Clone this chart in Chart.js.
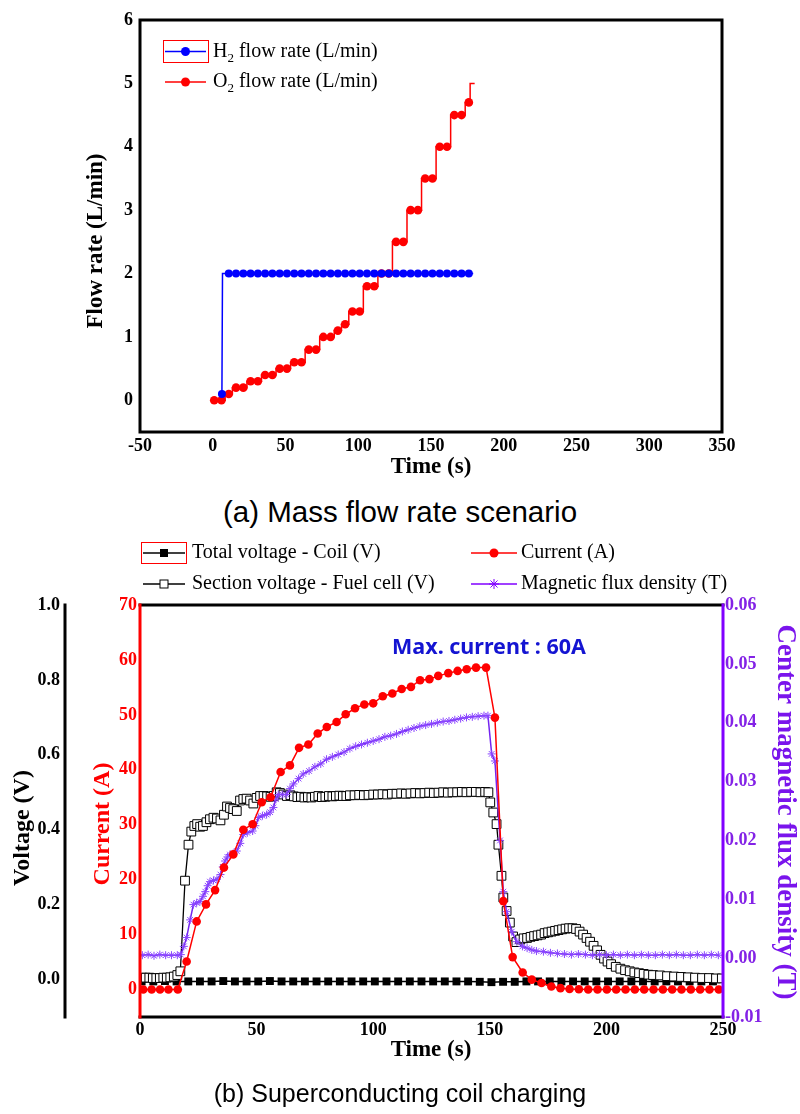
<!DOCTYPE html>
<html><head><meta charset="utf-8">
<script src="https://cdn.jsdelivr.net/npm/chart.js@4.4.1/dist/chart.umd.min.js"></script>
<style>
html,body{margin:0;padding:0;background:#fff;width:800px;height:1114px;overflow:hidden;position:relative}
#c1{position:absolute;left:0;top:0}
#c2{position:absolute;left:0;top:530px}
.cap{position:absolute;left:0;width:800px;text-align:center;font-family:"Liberation Sans",Arial,sans-serif;color:#000;line-height:1;white-space:nowrap}
</style></head><body>
<canvas id="c1" width="800" height="490"></canvas>
<canvas id="c2" width="800" height="560"></canvas>
<div class="cap" style="top:497px;font-size:29.5px">(a) Mass flow rate scenario</div>
<div class="cap" style="top:1081px;font-size:25px">(b) Superconducting coil charging</div>
<script>
// ---------- (a) data ----------
const flowXTicks = [-50, 0, 50, 100, 150, 200, 250, 300, 350];
const flowYTicks = [0, 1, 2, 3, 4, 5, 6];
const h2Time = [6.3, 6.7, 11, 16, 21, 26, 31, 36, 41, 46, 51, 56, 61, 66, 71, 76, 81, 86, 91, 96, 101, 106, 111, 116, 121, 126, 131, 136, 141, 146, 151, 156, 161, 166, 171, 176, 179];
const h2Flow = [0.1, 2, 2, 2, 2, 2, 2, 2, 2, 2, 2, 2, 2, 2, 2, 2, 2, 2, 2, 2, 2, 2, 2, 2, 2, 2, 2, 2, 2, 2, 2, 2, 2, 2, 2, 2, 2];
const o2Time = [1, 6, 11, 16, 21, 26, 31, 36, 41, 46, 51, 56, 61, 66, 71, 76, 81, 86, 91, 96, 101, 106, 111, 116, 121, 126, 131, 136, 141, 146, 151, 156, 161, 166, 171, 176, 177.8, 180];
const o2Flow = [0, 0, 0.1, 0.2, 0.2, 0.3, 0.3, 0.4, 0.4, 0.5, 0.5, 0.6, 0.6, 0.8, 0.8, 1.0, 1.0, 1.1, 1.2, 1.4, 1.4, 1.8, 1.8, 2.0, 2.0, 2.5, 2.5, 3.0, 3.0, 3.5, 3.5, 4.0, 4.0, 4.5, 4.5, 4.7, 5.0, 5.0];

// ---------- (b) data ----------
const timeTicks = [0, 50, 100, 150, 200, 250];
const voltTicks = [0, 0.2, 0.4, 0.6, 0.8, 1.0];
const currTicks = [0, 10, 20, 30, 40, 50, 60, 70];
const fluxTicks = [-0.01, 0, 0.01, 0.02, 0.03, 0.04, 0.05, 0.06];

const totalT = [0.7, 5.7, 10.7, 15.7, 20.7, 25.7, 30.7, 35.7, 40.7, 45.7,
  50.7, 55.7, 60.7, 65.7, 70.7, 75.7, 80.7, 85.7, 90.7, 95.7,
  100.7, 105.7, 110.7, 115.7, 120.7, 125.7, 130.7, 135.7, 140.7, 145.7,
  150.7, 155.7, 160.7, 165.7, 170.7, 175.7, 180.7, 185.7, 190.7, 195.7,
  200.7, 205.7, 210.7, 215.7, 220.7, 225.7, 230.7, 235.7, 240.7, 245.7];
const totalV = [-0.005, -0.005, -0.004, -0.005, -0.005, -0.005, -0.005, -0.004, -0.005, -0.005,
  -0.005, -0.004, -0.005, -0.005, -0.005, -0.005, -0.005, -0.005, -0.005, -0.005,
  -0.005, -0.005, -0.005, -0.005, -0.005, -0.005, -0.005, -0.005, -0.005, -0.006,
  -0.007, -0.006, -0.006, -0.005, -0.005, -0.005, -0.005, -0.005, -0.005, -0.005,
  -0.005, -0.005, -0.005, -0.005, -0.005, -0.005, -0.005, -0.005, -0.005, -0.005];

const sectionT = [1, 2.5, 4, 5.5, 7, 8.5, 10, 11.5, 13, 14.5,
  16, 17.3, 19.3, 20.8, 22, 23.3, 24.5, 25.8, 27, 28.5,
  30, 31.5, 33, 34.5, 36, 37.3, 38.6, 40, 41.5, 42.9,
  44.3, 45.7, 47.2, 48.6, 50, 51.5, 53, 54.5, 56, 57.4,
  58.6, 60, 61.5, 63, 64.5, 66, 67.5, 69, 70.5, 72,
  73.5, 75, 76.5, 78, 79.5, 81, 82.5, 84, 85.5, 87,
  88.5, 90, 92, 94, 96, 98, 100, 102, 104, 106,
  108, 110, 112, 114, 116, 118, 120, 122, 124, 126,
  128, 130, 132, 134, 136, 138, 140, 142, 144, 146,
  148, 149.4, 150.2, 151.5, 152.9, 153.7, 155, 155.8, 157.2, 158.6,
  160, 161.4, 163, 164.5, 166, 167.5, 169, 170.5, 172, 173.5,
  175, 176.5, 178, 179.5, 181, 182.5, 184, 185.5, 187, 188.5,
  190, 191.5, 193, 194.5, 196, 197.5, 199, 200.5, 202, 204,
  206, 208, 210, 212, 214, 216, 218, 220, 223, 226,
  229, 232, 235, 238, 241, 244, 247, 249.5];
const sectionV = [0.005, 0.005, 0.005, 0.004, 0.004, 0.004, 0.005, 0.005, 0.006, 0.008,
  0.012, 0.022, 0.264, 0.36, 0.395, 0.41, 0.415, 0.408, 0.41, 0.42,
  0.428, 0.432, 0.43, 0.425, 0.44, 0.462, 0.458, 0.455, 0.45, 0.478,
  0.482, 0.483, 0.478, 0.47, 0.485, 0.49, 0.49, 0.489, 0.488, 0.49,
  0.5, 0.498, 0.494, 0.49, 0.492, 0.489, 0.487, 0.488, 0.486, 0.487,
  0.486, 0.488, 0.49, 0.487, 0.488, 0.49, 0.489, 0.49, 0.491, 0.49,
  0.49, 0.492, 0.492, 0.493, 0.492, 0.493, 0.494, 0.494, 0.495, 0.494,
  0.496, 0.496, 0.497, 0.496, 0.497, 0.498, 0.497, 0.498, 0.499, 0.498,
  0.499, 0.5, 0.499, 0.5, 0.5, 0.501, 0.5, 0.501, 0.501, 0.5,
  0.501, 0.5, 0.473, 0.446, 0.415, 0.36, 0.277, 0.219, 0.183, 0.152,
  0.115, 0.1, 0.107, 0.11, 0.111, 0.114, 0.116, 0.118, 0.12, 0.124,
  0.126, 0.128, 0.13, 0.132, 0.134, 0.136, 0.137, 0.137, 0.135, 0.128,
  0.12, 0.111, 0.101, 0.09, 0.078, 0.066, 0.056, 0.048, 0.041, 0.034,
  0.029, 0.025, 0.022, 0.019, 0.017, 0.015, 0.013, 0.012, 0.011, 0.009,
  0.008, 0.007, 0.006, 0.005, 0.004, 0.004, 0.003, 0.003];

const currentT = [1.4, 5, 8.6, 12.2, 16.2, 20, 24.3, 28.3, 32.2, 36,
  40, 44.3, 48.3, 52.2, 56, 60.3, 64.3, 68.2, 72.2, 76.2,
  80.1, 84.3, 88.2, 92.2, 96.2, 100, 104.1, 108.2, 112.2, 116.2,
  120.1, 124.1, 127.9, 132.2, 136.2, 140.1, 144.1, 148.4, 152.2, 155.8,
  159.8, 164.1, 168, 172.2, 176.4, 180.3, 184.2, 188.2, 192.2, 196.2,
  200.2, 204.2, 208.2, 212.2, 216.2, 220.2, 224.2, 228.2, 232.2, 236.2,
  240.2, 244.2, 248.2];
const currentA = [0, 0, 0, 0, 0, 5.1, 12.4, 15.5, 18.1, 22.2,
  24.6, 29.1, 30.1, 34.1, 35, 39.6, 40.8, 44, 44.6, 46.6,
  47.8, 48.7, 50.1, 51.2, 51.9, 52.1, 53.4, 53.9, 54.7, 55.1,
  56.3, 56.5, 57.1, 57.6, 58, 58.3, 58.6, 58.6, 49.5, 16.1,
  5.9, 3.1, 1.8, 1.2, 0.55, 0.25, 0.1, 0.05, 0, 0,
  0, 0, 0, 0, 0, 0, 0, 0, 0, 0,
  0, 0, 0];

const fluxT = [1, 3.5, 6, 8.5, 11, 13.5, 16, 17.5, 18.8, 20,
  21.5, 22.9, 24.3, 25.7, 27, 28, 29, 30, 31.5, 33,
  34.5, 35.5, 36.5, 37.5, 38.6, 40, 41.5, 43, 44.3, 46,
  48.3, 49.5, 50.9, 52.5, 54.3, 55.8, 57.2, 58.3, 59.3, 61,
  62.9, 64.3, 65.8, 68, 70, 72.5, 75, 77.5, 80, 82.5,
  85, 87.5, 90, 92.5, 95, 97.5, 100, 102.5, 105, 107.5,
  110, 112.5, 115, 117.5, 120, 122.5, 125, 127.5, 130, 132.5,
  135, 137.5, 140, 142.5, 145, 147.5, 149.2, 150.8, 152.2, 154.4,
  155.8, 157.2, 159.4, 161.6, 164, 166, 168, 170, 173, 176,
  179, 182, 185, 188, 191, 194, 197, 200, 203, 206,
  209, 212, 215, 218, 221, 224, 227, 230, 233, 236,
  239, 242, 245, 248];
const fluxB = [0.0005, 0.0006, 0.0004, 0.0006, 0.0005, 0.0005, 0.0005, 0.0006, 0.002, 0.0035,
  0.0065, 0.0091, 0.0094, 0.0096, 0.0105, 0.0113, 0.0123, 0.013, 0.0132, 0.0134,
  0.0142, 0.0155, 0.0165, 0.0172, 0.0176, 0.0178, 0.0182, 0.0195, 0.021, 0.0213,
  0.0216, 0.0225, 0.0239, 0.0242, 0.0244, 0.0248, 0.0256, 0.027, 0.0278, 0.0278,
  0.0278, 0.0288, 0.0296, 0.0305, 0.0313, 0.0318, 0.0325, 0.033, 0.0338, 0.0342,
  0.0346, 0.035, 0.0356, 0.036, 0.0363, 0.0366, 0.0369, 0.0372, 0.0376, 0.0378,
  0.0381, 0.0385, 0.0388, 0.0391, 0.0394, 0.0396, 0.0398, 0.04, 0.0402, 0.0403,
  0.0405, 0.0407, 0.0409, 0.041, 0.0411, 0.0412, 0.0412, 0.0347, 0.0335, 0.02,
  0.0113, 0.0079, 0.0045, 0.0028, 0.002, 0.0017, 0.0014, 0.0012, 0.0011, 0.0009,
  0.0008, 0.0007, 0.0006, 0.0007, 0.0006, 0.0005, 0.0006, 0.0005, 0.0006, 0.0005,
  0.0006, 0.0005, 0.0006, 0.0005, 0.0005, 0.0006, 0.0005, 0.0006, 0.0005, 0.0005,
  0.0006, 0.0005, 0.0006, 0.0005];

// ---------- helpers ----------
const SERIF = '"Liberation Serif","Times New Roman",serif';
const RED = '#ff0000', BLUE = '#0000ff', PURPLE = '#8000ff', PURPLE_TXT = '#8322e6';
Chart.defaults.font.family = SERIF;
const pts = (xs, ys) => xs.map((x, i) => ({x: x, y: ys[i]}));
const setTicks = arr => scale => { scale.ticks = arr.map(v => ({value: v})); };

function text(ctx, s, x, y, font, color, align, rot) {
  ctx.save();
  ctx.font = font; ctx.fillStyle = color; ctx.textAlign = align || 'left'; ctx.textBaseline = 'middle';
  ctx.translate(x, y); if (rot) ctx.rotate(rot);
  ctx.fillText(s, 0, 0);
  ctx.restore();
}
function subLabel(ctx, x, y, main, sub, rest) {
  ctx.save();
  ctx.textBaseline = 'middle'; ctx.textAlign = 'left'; ctx.fillStyle = '#000';
  ctx.font = '20px ' + SERIF; ctx.fillText(main, x, y);
  let w = ctx.measureText(main).width;
  ctx.font = '13px ' + SERIF; ctx.fillText(sub, x + w, y + 7);
  w += ctx.measureText(sub).width;
  ctx.font = '20px ' + SERIF; ctx.fillText(rest, x + w, y);
  ctx.restore();
}
function sample(ctx, x1, x2, y, color, kind) {
  ctx.save();
  ctx.strokeStyle = color; ctx.lineWidth = 1.5;
  ctx.beginPath(); ctx.moveTo(x1, y); ctx.lineTo(x2, y); ctx.stroke();
  const cx = (x1 + x2) / 2;
  if (kind === 'circle') { ctx.fillStyle = color; ctx.beginPath(); ctx.arc(cx, y, 4.5, 0, Math.PI * 2); ctx.fill(); }
  else if (kind === 'fsq') { ctx.fillStyle = color; ctx.fillRect(cx - 4, y - 4, 8, 8); }
  else if (kind === 'osq') { ctx.fillStyle = '#fff'; ctx.fillRect(cx - 4, y - 4, 8, 8); ctx.lineWidth = 1; ctx.strokeRect(cx - 4, y - 4, 8, 8); }
  else if (kind === 'star') {
    ctx.lineWidth = 1; const r = 5;
    for (let k = 0; k < 4; k++) { const a = k * Math.PI / 4; ctx.beginPath(); ctx.moveTo(cx - r * Math.cos(a), y - r * Math.sin(a)); ctx.lineTo(cx + r * Math.cos(a), y + r * Math.sin(a)); ctx.stroke(); }
  }
  ctx.restore();
}
function seg(ctx, x1, y1, x2, y2, color, w) {
  ctx.save(); ctx.strokeStyle = color; ctx.lineWidth = w; ctx.beginPath(); ctx.moveTo(x1, y1); ctx.lineTo(x2, y2); ctx.stroke(); ctx.restore();
}
const tickFont = {family: SERIF, size: 18, weight: 'bold'};
const noGrid = {display: false, drawTicks: false};
const noBorder = {display: false};

// ---------- chart (a) ----------
const deco1 = {
  id: 'deco1',
  afterDatasetsDraw(chart) {
    const ctx = chart.ctx, a = chart.chartArea;
    ctx.save(); ctx.strokeStyle = '#000'; ctx.lineWidth = 3;
    ctx.strokeRect(a.left, a.top, a.right - a.left, a.bottom - a.top);
    ctx.restore();
  },
  afterDraw(chart) {
    const ctx = chart.ctx;
    text(ctx, 'Flow rate (L/min)', 96, 241, 'bold 23px ' + SERIF, '#000', 'center', -Math.PI / 2);
    text(ctx, 'Time (s)', 431, 467, 'bold 23px ' + SERIF, '#000', 'center');
    ctx.save(); ctx.strokeStyle = RED; ctx.lineWidth = 1; ctx.strokeRect(163.5, 40.5, 45, 22); ctx.restore();
    sample(ctx, 165, 206, 51.5, BLUE, 'circle');
    subLabel(ctx, 213, 52, 'H', '2', ' flow rate (L/min)');
    sample(ctx, 165, 206, 82, RED, 'circle');
    subLabel(ctx, 213, 82, 'O', '2', ' flow rate (L/min)');
  }
};
new Chart(document.getElementById('c1'), {
  type: 'line',
  data: {
    datasets: [
      {label: 'H2 flow rate (L/min)', data: pts(h2Time, h2Flow), borderColor: BLUE, backgroundColor: BLUE,
        borderWidth: 1.5, pointRadius: c => (c.dataIndex === 1 || c.dataIndex === h2Time.length - 1) ? 0 : 4,
        pointBorderWidth: 0, tension: 0},
      {label: 'O2 flow rate (L/min)', data: pts(o2Time, o2Flow), borderColor: RED, backgroundColor: RED,
        borderWidth: 1.5, stepped: 'middle', pointRadius: c => (c.dataIndex >= o2Time.length - 2) ? 0 : 4.3,
        pointBorderWidth: 0, tension: 0}
    ]
  },
  options: {
    responsive: false, animation: false, devicePixelRatio: 1,
    layout: {padding: {top: 20, right: 78, left: 0, bottom: 0}},
    plugins: {legend: {display: false}, tooltip: {enabled: false}},
    scales: {
      x: {type: 'linear', min: -50, max: 350, grid: noGrid, border: noBorder,
        afterBuildTicks: setTicks(flowXTicks), afterFit: s => { s.height = 58; },
        ticks: {font: tickFont, color: '#000', padding: 4, maxRotation: 0, autoSkip: false}},
      y: {type: 'linear', min: -0.5, max: 6, grid: noGrid, border: noBorder,
        afterBuildTicks: setTicks(flowYTicks), afterFit: s => { s.width = 140; },
        ticks: {font: tickFont, color: '#000', padding: 7, autoSkip: false}}
    }
  },
  plugins: [deco1]
});

// ---------- chart (b) ----------
const deco2 = {
  id: 'deco2',
  afterDatasetsDraw(chart) {
    const ctx = chart.ctx, a = chart.chartArea, v = chart.scales.yV;
    seg(ctx, a.left - 1.5, a.top, a.right + 1.5, a.top, '#000', 3);
    seg(ctx, a.left - 1.5, a.bottom, a.right + 1.5, a.bottom, '#000', 3);
    seg(ctx, a.left, a.top - 1.5, a.left, a.bottom + 1.5, RED, 3);
    seg(ctx, a.right, a.top - 1.5, a.right, a.bottom + 1.5, PURPLE, 3);
    seg(ctx, v.right, a.top - 1.5, v.right, a.bottom + 1.5, '#000', 3);
  },
  afterDraw(chart) {
    const ctx = chart.ctx;
    text(ctx, 'Time (s)', 431, 520, 'bold 23px ' + SERIF, '#000', 'center');
    text(ctx, 'Voltage (V)', 23, 298, 'bold 24px ' + SERIF, '#000', 'center', -Math.PI / 2);
    text(ctx, 'Current (A)', 103, 294, 'bold 24px ' + SERIF, RED, 'center', -Math.PI / 2);
    text(ctx, 'Center magnetic flux density (T)', 785, 282, 'bold 27px ' + SERIF, '#7a14ec', 'center', Math.PI / 2);
    text(ctx, 'Max. current : 60A', 489, 118, 'bold 21.5px "Noto Sans", sans-serif', '#1414d2', 'center');
    // legend
    ctx.save(); ctx.strokeStyle = RED; ctx.lineWidth = 1; ctx.strokeRect(141.5, 12.5, 45, 21); ctx.restore();
    sample(ctx, 143, 185, 23, '#000', 'fsq');
    text(ctx, 'Total voltage - Coil (V)', 192, 23, '20px ' + SERIF, '#000', 'left');
    sample(ctx, 143, 185, 54, '#000', 'osq');
    text(ctx, 'Section voltage - Fuel cell (V)', 192, 54, '20px ' + SERIF, '#000', 'left');
    sample(ctx, 471, 517, 23, RED, 'circle');
    text(ctx, 'Current (A)', 521, 23, '20px ' + SERIF, '#000', 'left');
    sample(ctx, 471, 517, 54, PURPLE, 'star');
    text(ctx, 'Magnetic flux density (T)', 521, 54, '20px ' + SERIF, '#000', 'left');
  }
};
new Chart(document.getElementById('c2'), {
  type: 'line',
  data: {
    datasets: [
      {label: 'Current (A)', data: pts(currentT, currentA), yAxisID: 'yA', borderColor: RED, backgroundColor: RED,
        borderWidth: 1.5, pointRadius: 4.3, pointBorderWidth: 0, tension: 0},
      {label: 'Magnetic flux density (T)', data: pts(fluxT, fluxB), yAxisID: 'yB', borderColor: '#7424f0', backgroundColor: '#7424f0',
        borderWidth: 1.5, pointStyle: 'star', pointRadius: 4, pointBorderColor: '#8a45ff', pointBorderWidth: 1, tension: 0},
      {label: 'Section voltage - Fuel cell (V)', data: pts(sectionT, sectionV), yAxisID: 'yV', borderColor: '#000', backgroundColor: '#fff',
        borderWidth: 1.3, pointStyle: 'rect', pointRadius: 6.2, pointBorderColor: '#000', pointBorderWidth: 1, tension: 0},
      {label: 'Total voltage - Coil (V)', data: pts(totalT, totalV), yAxisID: 'yV', borderColor: '#000', backgroundColor: '#000',
        borderWidth: 1.5, pointStyle: 'rect', pointRadius: 5.6, pointBorderWidth: 0, tension: 0}
    ]
  },
  options: {
    responsive: false, animation: false, devicePixelRatio: 1,
    layout: {padding: {top: 75, right: 0, left: 0, bottom: 0}},
    plugins: {legend: {display: false}, tooltip: {enabled: false}},
    scales: {
      x: {type: 'linear', min: 0, max: 250, grid: noGrid, border: noBorder,
        afterBuildTicks: setTicks(timeTicks), afterFit: s => { s.height = 73; },
        ticks: {font: tickFont, color: '#000', padding: 3, maxRotation: 0, autoSkip: false}},
      yV: {type: 'linear', position: 'left', weight: 2, min: -0.1, max: 1.0, grid: noGrid, border: noBorder,
        afterBuildTicks: setTicks(voltTicks), afterFit: s => { s.width = 65; },
        ticks: {font: tickFont, color: '#000', padding: 5, autoSkip: false, callback: v => v.toFixed(1)}},
      yA: {type: 'linear', position: 'left', weight: 1, min: -5, max: 70, grid: noGrid, border: noBorder,
        afterBuildTicks: setTicks(currTicks), afterFit: s => { s.width = 75; },
        ticks: {font: tickFont, color: RED, padding: 3, autoSkip: false, callback: v => String(v)}},
      yB: {type: 'linear', position: 'right', min: -0.01, max: 0.06, grid: noGrid, border: noBorder,
        afterBuildTicks: setTicks(fluxTicks), afterFit: s => { s.width = 77; },
        ticks: {font: tickFont, color: PURPLE_TXT, padding: 2, autoSkip: false, callback: v => v.toFixed(2)}}
    }
  },
  plugins: [deco2]
});
</script>
</body></html>
